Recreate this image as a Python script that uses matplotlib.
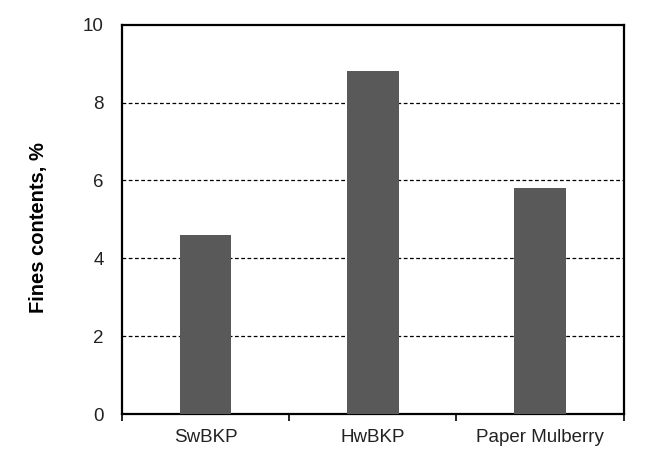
import numpy as np
import matplotlib.pyplot as plt
from matplotlib.ticker import FixedLocator

plt.rcParams['font.family'] = ['Liberation Sans', 'DejaVu Sans']

categories = ['SwBKP', 'HwBKP', 'Paper Mulberry']
fines = [4.6, 8.8, 5.8]
y_ticks = [0, 2, 4, 6, 8, 10]

fig = plt.figure(figsize=(6.45, 4.59), dpi=100)
ax = fig.add_axes([0.189, 0.098, 0.778, 0.848])

x = np.arange(len(categories))
ax.bar(x, fines, width=0.31, color='#595959', zorder=3)

ax.set_xlim(-0.5, len(categories) - 0.5)
ax.set_ylim(0, 10)
ax.set_yticks(y_ticks)
ax.set_xticks(x)
ax.set_xticklabels(categories, fontsize=13.5, color='#222222')
ax.xaxis.set_minor_locator(FixedLocator(np.arange(-0.5, len(categories), 1.0)))
ax.tick_params(axis='x', which='major', length=0, pad=11)
ax.tick_params(axis='x', which='minor', length=5, width=1.2, direction='out')
ax.tick_params(axis='y', length=0, pad=13, labelsize=13.5, labelcolor='#222222')

for y in y_ticks[1:-1]:
    ax.axhline(y, color='black', linestyle=(0, (3, 2)), linewidth=0.9, zorder=1)

for s in ax.spines.values():
    s.set_linewidth(1.6)

ax.set_ylabel('Fines contents, %', fontsize=14.5, fontweight='bold')
ax.yaxis.set_label_coords(-0.147, 0.48)

fig.savefig('out.png', dpi=100)
